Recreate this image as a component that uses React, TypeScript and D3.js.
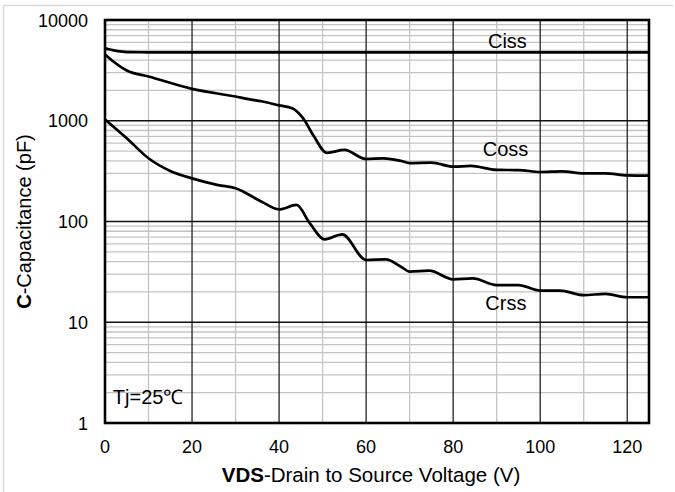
import React, { useEffect, useRef } from "react";
import * as d3 from "d3";

// Ciss / Coss / Crss vs VDS
const cissV = [0, 2, 4, 6, 10, 20, 40, 60, 80, 100, 120, 125];
const cissC = [5250, 5000, 4850, 4790, 4780, 4770, 4770, 4770, 4770, 4770, 4770, 4770];

const cossV = [0, 2, 5, 10, 20, 30, 33, 36, 40, 43, 45.5, 48, 51, 55, 60, 64, 68, 70, 75, 80, 84, 90, 95, 100, 105, 110, 115, 120, 125];
const cossC = [4550, 3850, 3150, 2750, 2070, 1740, 1640, 1560, 1420, 1330, 1060, 700, 480, 513, 417, 424, 400, 380, 384, 350, 356, 325, 324, 310, 315, 301, 301, 287, 285];

const crssV = [0, 5, 10, 15, 20, 26, 30, 36, 40, 44, 47, 50.5, 54.5, 60, 64.5, 68, 70, 74.5, 80, 84.5, 90, 95, 100, 104.5, 110, 115, 120, 125];
const crssC = [1030, 670, 424, 317, 268, 230, 214, 157, 132, 146, 97, 66.5, 74.5, 41.5, 42, 35.6, 31.8, 32.5, 26.7, 27.3, 23.4, 23.4, 20.6, 20.6, 18.6, 19.1, 17.7, 17.7];

const xTicks = [0, 20, 40, 60, 80, 100, 120];
const yTicks = [1, 10, 100, 1000, 10000];

// curve labels: [text, V, C]
const curveLabels: [string, number, number][] = [
  ["Ciss", 88, 5310],
  ["Coss", 86.8, 447],
  ["Crss", 87.4, 13.2],
  ["Tj=25℃", 1.8, 1.55],
];

const width = 675;
const height = 492;
const margin = { top: 20, right: 26, bottom: 69, left: 105 };
const font = "Arial, 'Liberation Sans', sans-serif";

export default function App() {
  const ref = useRef<SVGSVGElement>(null);

  useEffect(() => {
    const svg = d3.select(ref.current);
    svg.selectAll("*").remove();

    const x = d3.scaleLinear().domain([0, 125]).range([margin.left, width - margin.right]);
    const y = d3.scaleLog().domain([1, 10000]).range([height - margin.bottom, margin.top]);

    const x0 = x(0), x1 = x(125), y0 = y(1), y1 = y(10000);

    // outer frame (top + left only visible)
    svg.append("line").attr("x1", 3.5).attr("x2", 673).attr("y1", 5.5).attr("y2", 5.5)
      .attr("stroke", "#d9d9d9").attr("stroke-width", 1.5);
    svg.append("line").attr("x1", 3.5).attr("x2", 3.5).attr("y1", 5.5).attr("y2", height)
      .attr("stroke", "#d9d9d9").attr("stroke-width", 1.5);

    // minor grid
    const minorX = d3.range(10, 125, 20);
    svg.selectAll(".mx").data(minorX).enter().append("line")
      .attr("x1", d => x(d)).attr("x2", d => x(d)).attr("y1", y1).attr("y2", y0)
      .attr("stroke", "#c4c4c4").attr("stroke-width", 1.3);

    const minorY: number[] = [];
    [1, 10, 100, 1000].forEach(dec => {
      for (let k = 2; k <= 9; k++) minorY.push(dec * k);
    });
    svg.selectAll(".my").data(minorY).enter().append("line")
      .attr("x1", x0).attr("x2", x1).attr("y1", d => y(d)).attr("y2", d => y(d))
      .attr("stroke", "#c4c4c4").attr("stroke-width", 1.3);

    // major grid
    svg.selectAll(".gx").data(xTicks.slice(1)).enter().append("line")
      .attr("x1", d => x(d)).attr("x2", d => x(d)).attr("y1", y1).attr("y2", y0)
      .attr("stroke", "#222").attr("stroke-width", 1.3);
    svg.selectAll(".gy").data(yTicks.slice(1, -1)).enter().append("line")
      .attr("x1", x0).attr("x2", x1).attr("y1", d => y(d)).attr("y2", d => y(d))
      .attr("stroke", "#111").attr("stroke-width", 1.6);

    // curves
    const line = d3.line<[number, number]>()
      .x(d => x(d[0]))
      .y(d => y(d[1]))
      .curve(d3.curveMonotoneX);

    const series: [number[], number[]][] = [
      [cissV, cissC],
      [cossV, cossC],
      [crssV, crssC],
    ];
    series.forEach(([vs, cs]) => {
      const pts = vs.map((v, i) => [v, cs[i]] as [number, number]);
      svg.append("path")
        .attr("d", line(pts))
        .attr("fill", "none")
        .attr("stroke", "#000")
        .attr("stroke-width", 2.7);
    });

    // plot border
    svg.append("rect")
      .attr("x", x0).attr("y", y1).attr("width", x1 - x0).attr("height", y0 - y1)
      .attr("fill", "none").attr("stroke", "#000").attr("stroke-width", 2.6);

    // tick labels
    svg.selectAll(".yt").data(yTicks).enter().append("text")
      .attr("x", x0 - 17).attr("y", d => y(d) + 6.5)
      .attr("text-anchor", "end")
      .attr("font-family", font).attr("font-size", 18).attr("fill", "#000")
      .text(d => String(d));

    svg.selectAll(".xt").data(xTicks).enter().append("text")
      .attr("x", d => x(d)).attr("y", y0 + 30)
      .attr("text-anchor", "middle")
      .attr("font-family", font).attr("font-size", 18).attr("fill", "#000")
      .text(d => String(d));

    // curve labels
    curveLabels.forEach(([t, v, c]) => {
      svg.append("text")
        .attr("x", x(v)).attr("y", y(c))
        .attr("font-family", font).attr("font-size", 20).attr("fill", "#000")
        .text(t);
    });

    // axis titles
    const xt = svg.append("text")
      .attr("x", 371).attr("y", 482)
      .attr("text-anchor", "middle")
      .attr("font-family", font).attr("font-size", 20.5).attr("fill", "#000");
    xt.append("tspan").attr("font-weight", "bold").text("VDS");
    xt.append("tspan").text("-Drain to Source Voltage (V)");

    const yt = svg.append("text")
      .attr("transform", `translate(31,${(y0 + y1) / 2}) rotate(-90)`)
      .attr("text-anchor", "middle")
      .attr("font-family", font).attr("font-size", 20).attr("fill", "#000");
    yt.append("tspan").attr("font-weight", "bold").text("C");
    yt.append("tspan").text("-Capacitance (pF)");
  }, []);

  return (
    <div style={{ position: "absolute", left: 0, top: 0 }}>
      <svg ref={ref} width={width} height={height} style={{ display: "block", background: "#fff" }} />
    </div>
  );
}
